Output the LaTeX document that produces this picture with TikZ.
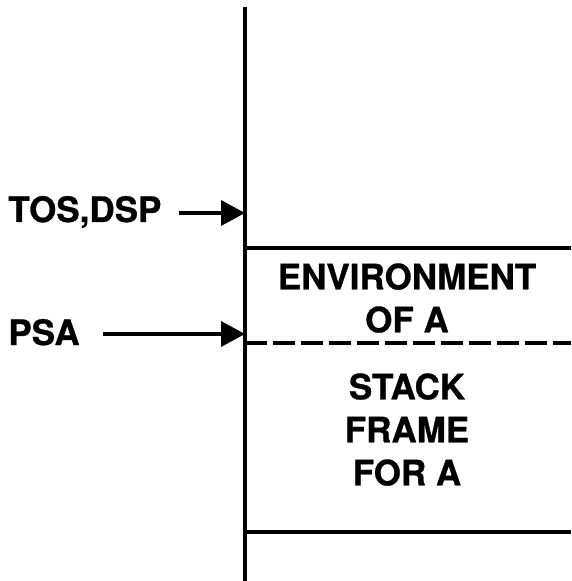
\documentclass[tikz,border=0pt]{standalone}
\usepackage{fontspec}
\setmainfont{TeX Gyre Heros}[BoldFeatures={FakeBold=0.8}]
\usetikzlibrary{arrows.meta}
\begin{document}
\begin{tikzpicture}[x=0.5pt, y=-0.5pt,
        lbl/.style={font=\fontsize{17.5}{21.5}\selectfont\bfseries, inner sep=0pt, anchor=base west},
        boxtxt/.style={font=\fontsize{17.5}{21.5}\selectfont\bfseries, inner sep=0pt, align=center, anchor=north},
        ptr/.style={line width=1.8pt, -{Triangle[length=12pt, width=12.5pt]}},
        wall/.style={line width=1.8pt}]
                \useasboundingbox (0,0) rectangle (571,581);
                \coordinate (top) at (245,7);
                \coordinate (bot) at (245,581);
                \coordinate (tosp) at (245,213);
                \coordinate (psap) at (245,334);

                % Pile
                \draw[wall] (top) -- (bot);
                \draw[wall] (245,248) coordinate (envl) -- (571,248) coordinate (envr);
                \draw[wall, dash pattern=on 11pt off 3pt] (245,343) coordinate (frl) -- (571,343) coordinate (frr);
                \draw[wall] (245,532) coordinate (endl) -- (571,532) coordinate (endr);

                % Contenu
                \node[boxtxt] (env) at (407,263) {ENVIRONMENT\\OF A};
                \node[boxtxt] (frame) at (407,373) {STACK\\FRAME\\FOR A};

                % Pointeurs
                \node[lbl] (tos) at (8,222) {TOS,DSP};
                \node[lbl] (psa) at (8,345) {PSA};
                \draw[ptr] ([xshift=8.5pt]tos.east |- tosp) -- (tosp);
                \draw[ptr] ([xshift=11.5pt]psa.east |- psap) -- (psap);
            \end{tikzpicture}
\end{document}
